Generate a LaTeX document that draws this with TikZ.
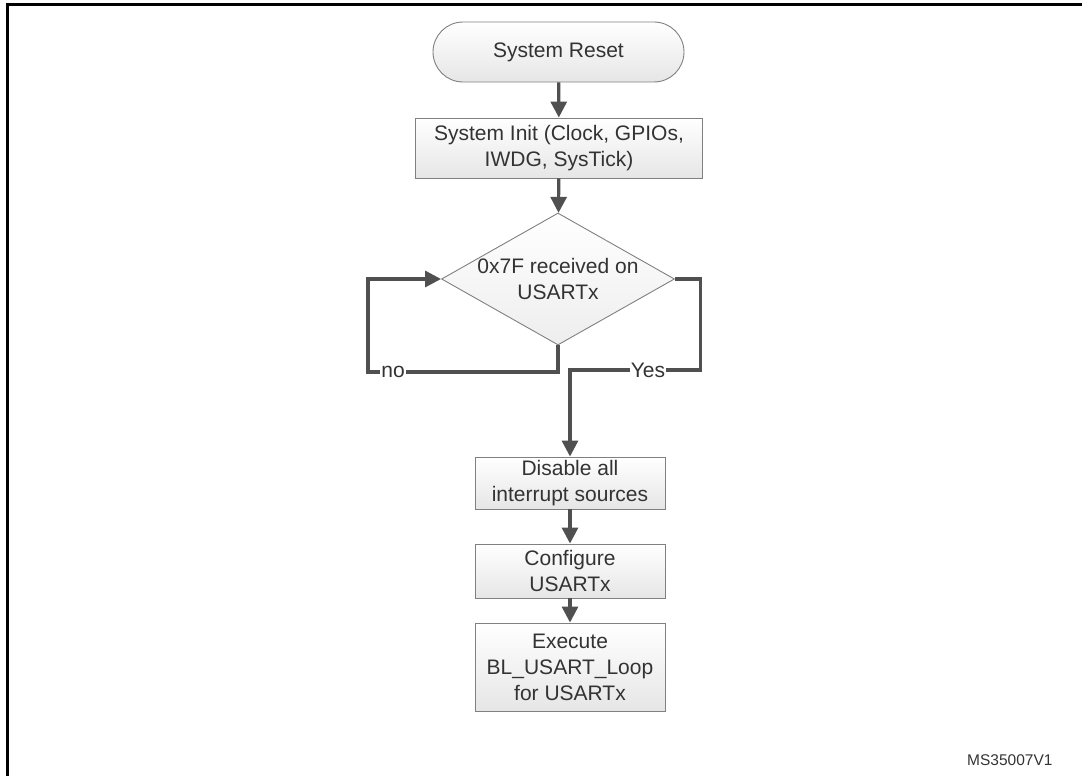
\documentclass[tikz,border=0pt]{standalone}
\usepackage{fontspec}
\setmainfont{Liberation Sans}
\usetikzlibrary{shapes.geometric,arrows.meta,positioning}

\definecolor{flowgray}{HTML}{505050}
\definecolor{edgegray}{HTML}{808080}
\definecolor{textgray}{HTML}{333333}
\definecolor{fillgray}{HTML}{E6E6E6}

\begin{document}
\begin{tikzpicture}[x=1pt, y=-1pt,
    stepbox/.style={draw=edgegray, line width=0.9pt, top color=white, bottom color=fillgray,
      text=textgray, align=center, inner sep=0pt, font=\fontsize{21}{26}\selectfont},
    terminal/.style={stepbox, rounded corners=30pt},
    decision/.style={diamond, draw=edgegray, line width=0.9pt, top color=white, bottom color=fillgray!70,
      inner sep=0pt},
    flow/.style={draw=flowgray, line width=3.2pt, -{Triangle[length=16pt,width=16pt]}},
    lbl/.style={fill=white, text=textgray, inner sep=1pt, font=\fontsize{21}{26}\selectfont}]

\useasboundingbox (0,0) rectangle (1082,776);
% frame
\draw[line width=3pt, line cap=rect] (7.5,776) -- (7.5,4.5) -- (1082,4.5);

% nodes
\node[terminal, minimum width=251pt, minimum height=60pt] (reset) at (558.5,52) {System Reset};
\node[stepbox, minimum width=287pt, minimum height=60pt] (init) at (559,148) {System Init (Clock, GPIOs,\\IWDG, SysTick)};
\node[decision, minimum width=233pt, minimum height=132pt] (dec) at (558,279) {};
\node[text=textgray, align=center, font=\fontsize{21}{26}\selectfont] (dectext) at (dec.center) {0x7F received on\\USARTx};
\node[stepbox, minimum width=190pt, minimum height=52pt] (disable) at (570,483) {Disable all\\interrupt sources};
\node[stepbox, minimum width=190pt, minimum height=54pt] (config) at (570,571) {Configure\\USARTx};
\node[stepbox, minimum width=190pt, minimum height=88pt] (exec) at (570,667) {Execute\\BL\_USART\_Loop\\for USARTx};

% connectors
\draw[flow] (reset) -- (init);
\draw[flow] (init) -- (dec);
\coordinate (noleft) at (368,372);
\draw[flow] (dec.south) |- (noleft) |- (dec.west);
\coordinate (yesright) at (700.5,370);
\coordinate (yesleft) at (570,370);
\draw[flow] (dec.east) -| (yesright) -- (yesleft) -- (disable.north);
\draw[flow] (disable) -- (config);
\draw[flow] (config) -- (exec);

% labels
\node[lbl] (nolbl) at (393,372) {no};
\node[lbl] (yeslbl) at (648,370) {Yes};
\node[text=textgray, font=\fontsize{15.5}{18}\selectfont, anchor=east] (ref) at (1056,760) {MS35007V1};
\end{tikzpicture}
\end{document}
